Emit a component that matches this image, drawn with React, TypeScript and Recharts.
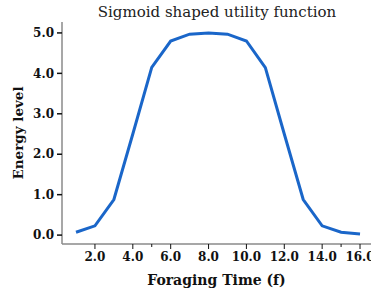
import React from 'react';
import { LineChart, Line, XAxis, YAxis, Label } from 'recharts';

const foragingTime = [1, 2, 3, 4, 5, 6, 7, 8, 9, 10, 11, 12, 13, 14, 15, 16];
const energyLevel = [0.07, 0.23, 0.88, 2.5, 4.15, 4.8, 4.97, 5.0, 4.97, 4.8, 4.14, 2.5, 0.88, 0.23, 0.07, 0.025];
const xTicks = [2, 4, 5, 6, 8, 10, 12, 14, 15, 16];
const minorTicks = [5, 15];
const yTicks = [0, 1, 2, 3, 4, 5];

const data = foragingTime.map((f, i) => ({ f, energy: energyLevel[i] }));

const font = '"DejaVu Serif", serif';
const axisGray = '#8a8a8a';

// x ticks: major get a label, the two minor ones only a short mark
const XTick = (props: any) => {
  const { x, y, payload } = props;
  const axisY = y - 8;
  const minor = minorTicks.includes(payload.value);
  return (
    <g>
      <line x1={x} x2={x} y1={axisY} y2={axisY + (minor ? 3 : 5)} stroke="#111" strokeWidth={1} />
      {!minor && (
        <text x={x} y={y} dy="0.71em" textAnchor="middle" fill="#111"
          fontFamily={font} fontSize={12} fontWeight="bold">
          {payload.value.toFixed(1)}
        </text>
      )}
    </g>
  );
};

const App: React.FC = () => {
  return (
    <div style={{ position: 'absolute', left: 0, top: 0, width: 371, height: 292, background: '#fff' }}>
      <LineChart width={371} height={292} data={data} margin={{ top: 22, right: 0, bottom: 0, left: 0 }}>
        <text x={217} y={17} textAnchor="middle" fontFamily={font} fontSize={15} fill="#222">
          Sigmoid shaped utility function
        </text>
        <XAxis
          dataKey="f"
          type="number"
          domain={[0.26, 16.58]}
          allowDataOverflow
          ticks={xTicks}
          interval={0}
          height={48}
          stroke={axisGray}
          strokeWidth={1.5}
          tick={<XTick />}
          tickLine={false}
          tickSize={5}
          tickMargin={3}
        >
          <Label value="Foraging Time (f)" position="insideBottom" offset={7} fill="#111"
            style={{ fontFamily: font, fontSize: 14, fontWeight: 'bold' }} />
        </XAxis>
        <YAxis
          type="number"
          domain={[-0.22, 5.27]}
          allowDataOverflow
          ticks={yTicks}
          interval={0}
          tickFormatter={(v: number) => v.toFixed(1)}
          width={62}
          stroke={axisGray}
          strokeWidth={1.5}
          tick={{ fill: '#111', fontFamily: font, fontSize: 12, fontWeight: 'bold' }}
          tickLine={{ stroke: '#111' }}
          tickSize={5}
          tickMargin={3}
        >
          <Label value="Energy level" angle={-90} position="insideLeft" offset={18} fill="#111"
            style={{ fontFamily: font, fontSize: 13.5, fontWeight: 'bold', textAnchor: 'middle' }} />
        </YAxis>
        <Line
          type="linear"
          dataKey="energy"
          stroke="#1a66c9"
          strokeWidth={3}
          dot={false}
          isAnimationActive={false}
        />
      </LineChart>
    </div>
  );
};

export default App;
